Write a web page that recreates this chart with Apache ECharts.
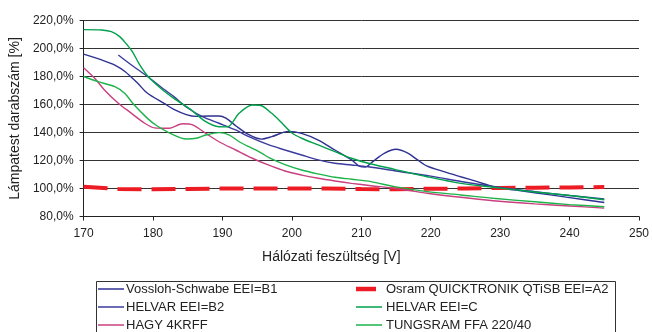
<!DOCTYPE html>
<html>
<head>
<meta charset="utf-8">
<script src="https://cdn.jsdelivr.net/npm/echarts@6/dist/echarts.min.js"></script>
<style>
html,body{margin:0;padding:0;background:#fff;}
#chart{width:652px;height:332px;}
</style>
</head>
<body>
<div id="chart"></div>
<script>
const seriesNames = [
  'Vossloh-Schwabe EEI=B1',
  'Osram QUICKTRONIK QTiSB EEI=A2',
  'HELVAR EEI=B2',
  'HELVAR EEI=C',
  'HAGY 4KRFF',
  'TUNGSRAM FFA 220/40'
];
const xTicks = [170, 180, 190, 200, 210, 220, 230, 240, 250];
const yTicks = [80, 100, 120, 140, 160, 180, 200, 220];

const vossloh = [[170,196],[172.5,192],[174.5,188.2],[176,183.4],[177.8,175.1],[179.2,168],[181.6,160.8],[183,156.5],[184.8,152.8],[186.2,151.5],[188,151.8],[189.5,151.8],[190.5,150.3],[192,144.5],[193.8,138.5],[195.6,135.3],[197.1,137],[199.5,140.8],[201.4,139.4],[203.8,134.6],[206.2,127.5],[208.6,120.4],[209.8,115.8],[210.6,115.4],[211.6,119],[213.3,125.1],[215,128],[216.7,125.3],[218.1,120.4],[219.5,116],[221.9,112],[224.3,108.4],[226.7,104.9],[229,101.3],[232,99],[235,97],[240,93.5],[245,90]];
const osram = [[170,101.2],[175,99.6],[180,99.5],[185,99.6],[190,100],[195,100],[200,100],[205,100],[210,99.6],[215,99.5],[220,99.8],[225,100],[230,100.4],[235,100.6],[240,100.8],[245,101]];
const helvarB2 = [[175,195.4],[176.9,188.2],[179.2,180],[181.1,172.7],[183,165.6],[185,157.5],[187.1,151.3],[189.5,146.6],[191.9,141.8],[193.8,137],[196.7,131.1],[199,127.5],[201.4,123.9],[203.8,120.4],[206.2,118],[208.6,116.8],[211,115.5],[215,112.5],[220,108.8],[225,104.5],[230,100.8],[235,97.8],[240,95],[245,92.5]];
const helvarC = [[170,213.5],[172.6,213.2],[174,212],[175.2,208.5],[176.2,203],[177,198],[178,189],[179.2,180.5],[181.1,171.6],[183,164.4],[185.4,156.5],[187.6,147.7],[189.5,144.1],[190.7,144],[192.4,153.7],[194.3,159.6],[195.5,159.3],[197.1,153.7],[198.6,146.6],[200,139.6],[201.4,135.9],[203.8,131.1],[206.2,126.3],[208.6,121.6],[211,118],[214.8,113.7],[219.5,108.4],[224.3,103.7],[229,100.9],[235,97.5],[240,95],[245,92]];
const hagy = [[170,186.3],[171.6,178.7],[173,170.4],[175,160.9],[176.9,153.7],[178.8,146.6],[180.2,143.3],[182.2,143],[184.3,146.2],[185.7,145.4],[187.6,139.4],[189.5,133.4],[191.9,127.5],[194.3,121.6],[196.5,117],[199,112.5],[201.4,109.6],[203.8,107.3],[206.2,105.4],[208.6,103.7],[211.4,102],[214.8,100.1],[219.5,96.6],[224.3,93.7],[229,91.3],[235,89],[240,87.5],[245,86]];
const tungsram = [[170,180],[172.1,176.3],[174.5,172.7],[175.9,168],[177.3,159.6],[179.2,150.1],[180.5,145],[182.4,139.6],[184.8,135.4],[186.2,135.9],[187.6,138.2],[189.5,139.9],[191,138.2],[192.4,133.4],[194.3,128.7],[195.7,125.1],[196.7,122],[199,117],[201.4,113.2],[203.8,110.4],[206.2,108],[208.6,106.6],[211.4,104.9],[214.8,101.3],[219.5,97.8],[224.3,95.4],[229,93],[235,90.5],[240,88.5],[245,87]];

const seriesData = [vossloh, osram, helvarB2, helvarC, hagy, tungsram];
const colors = ['#2e3192', '#ed1c24', '#3b3b9e', '#00a14b', '#c8407f', '#1db34a'];
const FONT = "'Liberation Sans', Arial, sans-serif";

const chart = echarts.init(document.getElementById('chart'), null, {renderer: 'canvas'});

const series = seriesData.map((d, i) => ({
  name: seriesNames[i],
  type: 'line',
  data: d,
  symbol: 'none',
  smooth: i === 1 ? false : 0.3,
  lineStyle: i === 1
    ? {color: colors[i], width: 4, type: [24, 10]}
    : {color: colors[i], width: 1.4},
  itemStyle: {color: colors[i]},
  z: 2
}));

// legend drawn as graphic: 2 columns x 3 rows (row-wise series order)
const legendKeyX = [98, 356];
const legendTextX = [126, 386];
const legendRowY = [289, 307, 325];
const legendGraphics = [{
  type: 'rect',
  left: 94, top: 279,
  shape: {width: 519, height: 70},
  style: {fill: 'none', stroke: '#333', lineWidth: 1},
  silent: true
}];
seriesNames.forEach((name, i) => {
  const col = i % 2, row = Math.floor(i / 2);
  const thick = i === 1;
  const w = thick ? 20 : 26, h = thick ? 4.5 : 1.5;
  legendGraphics.push({
    type: 'rect', silent: true,
    shape: {x: legendKeyX[col], y: legendRowY[row] - h / 2, width: w, height: h},
    style: {fill: colors[i]}
  });
  legendGraphics.push({
    type: 'text', silent: true,
    x: legendTextX[col], y: legendRowY[row],
    style: {text: name, fill: '#222', font: "13px 'Liberation Sans', Arial, sans-serif", textVerticalAlign: 'middle', verticalAlign: 'middle', textAlign: 'left', align: 'left'}
  });
});

const option = {
  animation: false,
  backgroundColor: '#fff',
  textStyle: {fontFamily: FONT},
  grid: {left: 80, top: 20.5, right: 12, bottom: 115.5, containLabel: false},
  xAxis: {
    type: 'value',
    min: xTicks[0], max: xTicks[xTicks.length - 1], interval: 10,
    name: 'Hálózati feszültség [V]',
    nameLocation: 'middle',
    nameGap: 34,
    nameTextStyle: {color: '#222', fontSize: 14, fontFamily: FONT, padding: [0, 60, 0, 0], verticalAlign: 'top'},
    axisLine: {lineStyle: {color: '#222', width: 1}},
    axisTick: {show: true, length: 4, lineStyle: {color: '#222'}},
    axisLabel: {color: '#222', fontSize: 12, fontFamily: FONT, margin: 11},
    splitLine: {show: false}
  },
  yAxis: {
    type: 'value',
    min: yTicks[0], max: yTicks[yTicks.length - 1], interval: 20,
    name: 'Lámpatest darabszám [%]',
    nameLocation: 'middle',
    nameGap: 58,
    nameTextStyle: {color: '#222', fontSize: 14, fontFamily: FONT},
    axisLine: {show: true, lineStyle: {color: '#222', width: 1}},
    axisTick: {show: true, length: 4, lineStyle: {color: '#222'}},
    axisLabel: {
      color: '#222', fontSize: 12, fontFamily: FONT, margin: 10,
      formatter: v => v.toFixed(1).replace('.', ',') + '%'
    },
    splitLine: {show: true, lineStyle: {color: '#333', width: 1}}
  },
  graphic: legendGraphics,
  series: series
};
chart.setOption(option);
</script>
</body>
</html>
